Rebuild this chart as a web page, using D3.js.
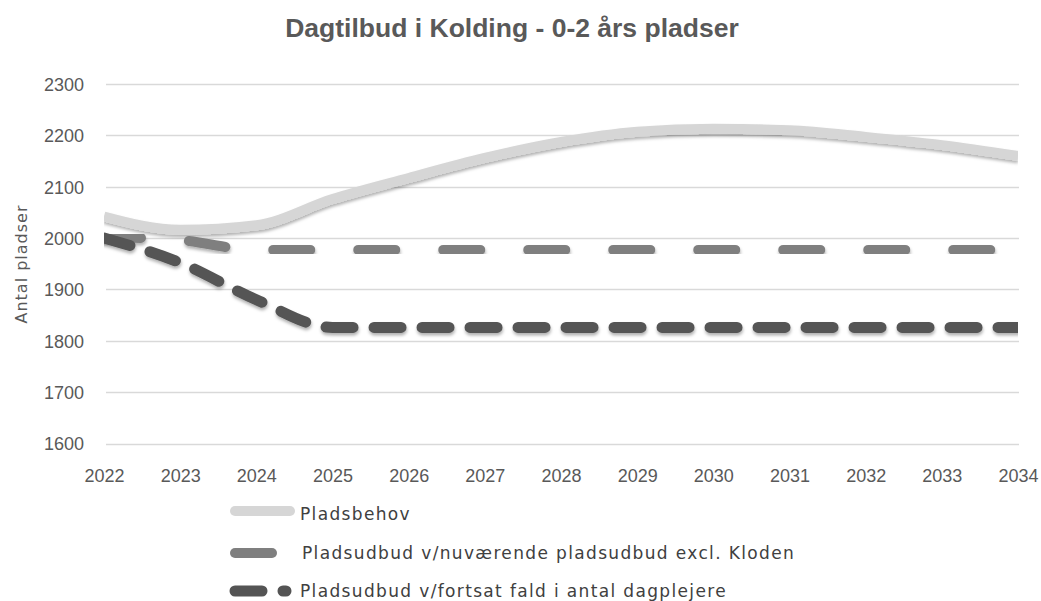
<!DOCTYPE html>
<html>
<head>
<meta charset="utf-8">
<script src="https://cdn.jsdelivr.net/npm/d3@7"></script>
<style>
  body { margin: 0; background: #fff; }
  svg { display: block; }
</style>
</head>
<body>
<div id="chart"></div>
<script>
// data
var years = [2022, 2023, 2024, 2025, 2026, 2027, 2028, 2029, 2030, 2031, 2032, 2033, 2034]
var pladsbehov = [2042, 2016, 2025, 2076, 2117, 2156, 2187, 2207, 2213, 2210, 2197, 2181, 2160]
var udbudNu = [2002, 1996, 1977, 1977, 1977, 1977, 1977, 1977, 1977, 1977, 1977, 1977, 1977]
var udbudFald = [2000, 1952, 1880, 1826, 1826, 1826, 1826, 1826, 1826, 1826, 1826, 1826, 1826]
var yTicks = [1600, 1700, 1800, 1900, 2000, 2100, 2200, 2300]
var seriesNames = ["Pladsbehov", "Pladsudbud v/nuværende pladsudbud excl. Kloden", "Pladsudbud v/fortsat fald i antal dagplejere"]

var width = 1041, height = 601

var svg = d3.select("#chart")
  .append("svg")
  .attr("width", width)
  .attr("height", height)

var x = d3.scaleLinear().domain([2022, 2034]).range([104, 1018])
var y = d3.scaleLinear().domain([1600, 2300]).range([443.5, 84])

var defs = svg.append("defs")
defs.append("clipPath").attr("id", "plotclip")
  .append("rect")
  .attr("x", 104).attr("y", 0)
  .attr("width", 914).attr("height", 480)

defs.append("filter").attr("id", "shadow")
  .attr("x", "-5%").attr("y", "-20%").attr("width", "110%").attr("height", "150%")
  .append("feDropShadow")
  .attr("dx", 0.5).attr("dy", 2.5)
  .attr("stdDeviation", 1.6)
  .attr("flood-color", "#000")
  .attr("flood-opacity", 0.3)

// title
svg.append("text")
  .attr("x", 512).attr("y", 37)
  .attr("text-anchor", "middle")
  .style("font-family", "'Liberation Sans', Arial, sans-serif")
  .style("font-weight", "bold")
  .style("font-size", "26.5px")
  .style("fill", "#595959")
  .text("Dagtilbud i Kolding - 0-2 års pladser")

// gridlines
svg.append("g")
  .selectAll("line")
  .data(yTicks)
  .enter()
  .append("line")
  .attr("x1", 106).attr("x2", 1019)
  .attr("y1", function (d) { return Math.round(y(d)) + 0.5 })
  .attr("y2", function (d) { return Math.round(y(d)) + 0.5 })
  .style("stroke", "#d9d9d9")
  .style("stroke-width", 1.5)

// y axis labels
var yAxis = d3.axisLeft(y).tickValues(yTicks).tickSize(0).tickPadding(0).tickFormat(d3.format("d"))
var gy = svg.append("g").attr("transform", "translate(84,0)").call(yAxis)
gy.select(".domain").remove()
gy.selectAll("text")
  .attr("dy", "0.36em")
  .style("font-family", "'Liberation Sans', Arial, sans-serif")
  .style("font-size", "18px")
  .style("fill", "#595959")

// x axis labels
var xAxis = d3.axisBottom(x).tickValues(years).tickSize(0).tickPadding(0).tickFormat(d3.format("d"))
var gx = svg.append("g").attr("transform", "translate(0,469)").call(xAxis)
gx.select(".domain").remove()
gx.selectAll("text")
  .attr("dy", "0.71em")
  .style("font-family", "'Liberation Sans', Arial, sans-serif")
  .style("font-size", "18px")
  .style("fill", "#595959")

// y axis title
svg.append("text")
  .attr("transform", "translate(27,264) rotate(-90)")
  .attr("text-anchor", "middle")
  .style("font-family", "'DejaVu Sans', sans-serif")
  .style("font-size", "16px")
  .style("letter-spacing", "1px")
  .style("fill", "#595959")
  .text("Antal pladser")

var styles = [
  { color: "#d6d6d6", width: 10, dash: null, cap: "butt" },
  { color: "#7f7f7f", width: 10, dash: "37 48", cap: "round" },
  { color: "#545454", width: 11, dash: "27 21", cap: "round" }
]
var seriesData = [pladsbehov, udbudNu, udbudFald]

var line = d3.line()
  .x(function (d, i) { return x(years[i]) })
  .y(function (d) { return y(d) })
  .curve(d3.curveMonotoneX)

var plot = svg.append("g").attr("clip-path", "url(#plotclip)")
seriesData.forEach(function (vals, k) {
  plot.append("path")
    .datum(vals)
    .attr("d", line)
    .attr("fill", "none")
    .attr("filter", "url(#shadow)")
    .style("stroke", styles[k].color)
    .style("stroke-width", styles[k].width)
    .style("stroke-linecap", styles[k].cap)
    .style("stroke-linejoin", "round")
    .style("stroke-dasharray", styles[k].dash)
})

// legend
var legendRows = [
  { y: 511, x1: 235, x2: 290, tx: 300, ty: 520 },
  { y: 553, x1: 235, x2: 275, tx: 302, ty: 559 },
  { y: 591, x1: 235, x2: 286, tx: 300, ty: 597 }
]
legendRows.forEach(function (r, k) {
  svg.append("line")
    .attr("x1", r.x1).attr("x2", r.x2)
    .attr("y1", r.y).attr("y2", r.y)
    .style("stroke", styles[k].color)
    .style("stroke-width", styles[k].width)
    .style("stroke-linecap", "round")
    .style("stroke-dasharray", styles[k].dash)
  svg.append("text")
    .attr("x", r.tx).attr("y", r.ty)
    .style("font-family", "'DejaVu Sans', sans-serif")
    .style("font-size", "17px")
    .style("letter-spacing", "1.35px")
    .style("fill", "#404040")
    .text(seriesNames[k])
})
</script>
</body>
</html>
